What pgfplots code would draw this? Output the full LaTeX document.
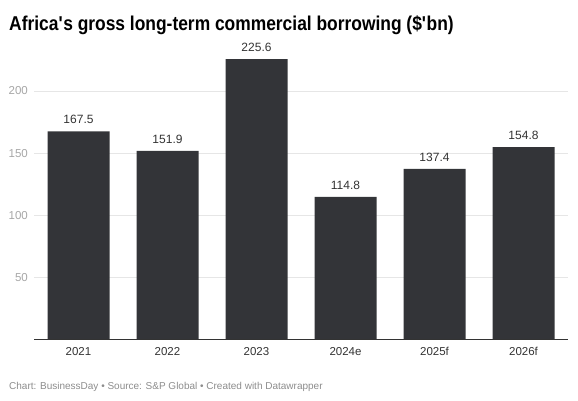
\documentclass[border=0pt]{standalone}
\usepackage{pgfplots}
\pgfplotsset{compat=1.18}
\usepackage{fontspec}
\setmainfont{Liberation Sans}
\newfontfamily\titlefont[FakeStretch=0.87]{Liberation Sans}
\definecolor{barc}{HTML}{333438}
\definecolor{tickc}{HTML}{A6A6A6}
\definecolor{footc}{HTML}{8C8C8C}
\definecolor{txtc}{HTML}{333333}
\definecolor{gridc}{HTML}{E6E6E6}
\begin{document}
\begin{tikzpicture}[x=1pt,y=1pt]
\path[use as bounding box] (0,0) rectangle (578,400);
\node[anchor=base west, inner sep=0, font=\titlefont\fontsize{20}{24}\selectfont\bfseries] at (9,370) {Africa\textquotesingle s gross long-term commercial borrowing (\$\textquotesingle bn)};
\begin{axis}[
  at={(34pt,60.5pt)}, anchor=south west, scale only axis,
  width=534pt, height=285.8pt,
  xmin=-0.5, xmax=5.5, ymin=0, ymax=230,
  axis line style={draw=none}, major tick length=0pt,
  ytick={50,100,150,200},
  ymajorgrids, grid style={gridc, line width=0.8pt},
  xtick={0,...,5}, xticklabels={2021,2022,2023,2024e,2025f,2026f},
  xticklabel style={anchor=base, inner sep=0pt, yshift=-15.7pt, font=\fontsize{11.5}{13}\selectfont, text=txtc},
  yticklabel style={anchor=east, inner sep=0pt, xshift=-6pt, font=\fontsize{11.5}{13}\selectfont, text=tickc},
  /pgf/number format/assume math mode=true,
  ybar, bar width=62pt,
  nodes near coords, point meta=explicit symbolic,
  every node near coord/.append style={anchor=base, inner sep=0pt, yshift=7.5pt, font=\fontsize{12}{14}\selectfont, text=txtc},
  clip=false,
]
\addplot[fill=barc, draw=none] coordinates {
  (0,167.5) [167.5]
  (1,151.9) [151.9]
  (2,225.6) [225.6]
  (3,114.8) [114.8]
  (4,137.4) [137.4]
  (5,154.8) [154.8]
};
\draw[txtc, line width=1pt] (rel axis cs:0,0) -- (rel axis cs:1,0);
\end{axis}
\node[anchor=base west, inner sep=0, font=\fontsize{10}{12}\selectfont, text=footc] at (9,11) {Chart: BusinessDay • Source: S\&P Global • Created with Datawrapper};
\end{tikzpicture}
\end{document}
